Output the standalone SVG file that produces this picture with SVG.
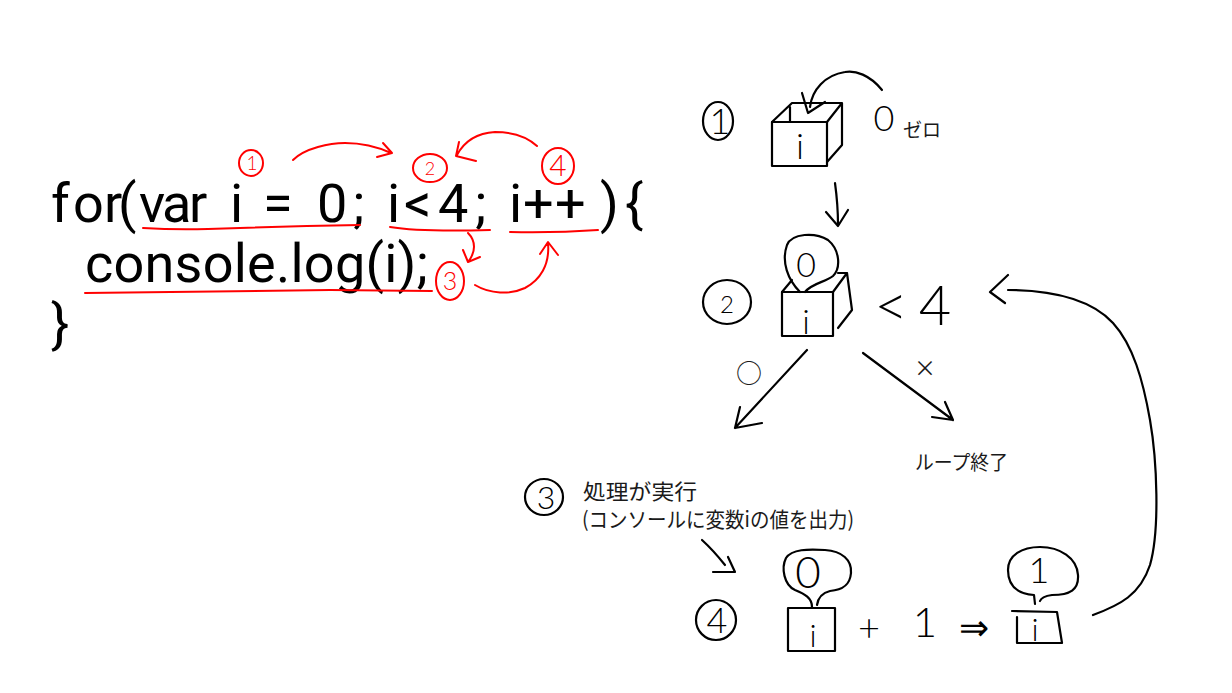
<svg xmlns="http://www.w3.org/2000/svg" width="1232" height="693" viewBox="0 0 1232 693">
<style>
.code{font-family:Roboto,"Liberation Sans",sans-serif;font-size:54px;fill:#000}
.red{fill:none;stroke:#f00;stroke-width:2;stroke-linecap:round;stroke-linejoin:round}
.ink{fill:none;stroke:#000;stroke-width:2.2;stroke-linecap:round;stroke-linejoin:round}
.rnum{font-family:Lato,"Liberation Sans",sans-serif;font-weight:300;fill:#f00;text-anchor:middle}
.hand{font-family:Lato,"Liberation Sans",sans-serif;font-weight:300;fill:#000;text-anchor:middle}
.jp{font-family:"Noto Sans CJK JP",sans-serif;fill:#1a1a1a}
</style>
<rect width="1232" height="693" fill="#fff"/>

<g id="code">
<text class="code" y="222" x="51 73 104 118 139 162 189 210 230 250 263 300 317 353 370 387 404 438 475 495 509 523 555 600 625">for(var i = 0; i&lt;4; i++){</text>
<text class="code" x="85" y="282" textLength="343">console.log(i);</text>
<text class="code" x="51" y="342">}</text>
</g>

<g id="code-marks">
<path class="red" d="M143,228 Q175,230 208,229 L240,228 Q300,226 360,225"/>
<path class="red" d="M390,227 Q420,232 490,230"/>
<path class="red" d="M510,232 Q555,233 598,230"/>
<path class="red" d="M85,293 Q280,291 330,290 L432,291"/>
<g id="r1"><ellipse class="red" cx="251" cy="163" rx="12" ry="13"/><text class="rnum" x="252" y="170" font-size="19">1</text></g>
<g id="r2"><ellipse class="red" cx="430" cy="168" rx="17" ry="14"/><text class="rnum" x="430" y="175" font-size="18">2</text></g>
<g id="r3"><ellipse class="red" cx="450" cy="281" rx="14" ry="19"/><text class="rnum" x="450" y="290" font-size="25">3</text></g>
<g id="r4"><ellipse class="red" cx="558" cy="166" rx="16" ry="18"/><text class="rnum" x="558" y="176" font-size="30">4</text></g>
</g>

<g id="code-connectors">
<path class="red" d="M293,160 C305,148 330,143 345,143 C365,143 380,148 391,153 M383,143 L392,153 L377,157"/>
<path class="red" d="M537,146 C525,135 510,132 495,132 C478,133 465,140 457,155 M459,142 L456,156 L476,161"/>
<path class="red" d="M468,233 C476,241 476,252 468,262 M463,250 L468,262 L480,257"/>
<path class="red" d="M475,285 C490,294 510,295 525,288 C540,280 550,265 548,243 M540,254 L548,242 L558,255"/>
</g>

<g id="step1">
<ellipse class="ink" cx="718" cy="121" rx="15" ry="19"/>
<text class="hand" x="720" y="134" font-size="36">1</text>
</g>
<g id="box1">
<rect class="ink" x="772" y="122" width="55" height="44"/>
<path class="ink" d="M772,122 L792,103 L842,103 L827,122 M842,103 L842,145 L827,162 M790,107 L790,122"/>
<text class="hand" x="800" y="159" font-size="36">i</text>
</g>
<g id="zero-label">
<text class="hand" x="884" y="131" font-size="36">0</text>
<text class="jp" x="903" y="137" font-size="19">ゼロ</text>
</g>

<g id="step2">
<ellipse class="ink" cx="727" cy="302" rx="24" ry="22"/>
<text class="hand" x="727" y="313" font-size="24">2</text>
</g>
<g id="box2">
<path class="ink" d="M800,292 C788,280 781,262 787,245 C792,233 815,232 828,240 C840,250 841,268 833,276 C826,282 812,283 805,292"/>
<text class="hand" x="806" y="277" font-size="34">0</text>
<rect class="ink" x="782" y="292" width="51" height="44"/>
<path class="ink" d="M782,292 L792,280 M833,292 L847,273 L838,273 M847,273 L852,310 L838,328"/>
<text class="hand" x="806" y="334" font-size="34">i</text>
</g>
<g id="cond">
<text class="hand" x="891" y="326" font-size="58">&lt;</text>
<text class="hand" x="935" y="325" font-size="56">4</text>
</g>

<g id="yes-label"><text class="jp" x="749" y="383" font-size="26" text-anchor="middle">○</text></g>
<g id="no-label"><text class="jp" x="925" y="376" font-size="22" text-anchor="middle">×</text></g>
<g id="loop-end"><text class="jp" x="915" y="470" font-size="20" textLength="93" lengthAdjust="spacingAndGlyphs">ループ終了</text></g>

<g id="step3">
<ellipse class="ink" cx="544" cy="497" rx="19" ry="18"/>
<text class="hand" x="546" y="509" font-size="32">3</text>
<text class="jp" x="583" y="499" font-size="21" textLength="114" lengthAdjust="spacingAndGlyphs">処理が実行</text>
<text class="jp" x="582" y="527" font-size="21" textLength="272" lengthAdjust="spacingAndGlyphs">(コンソールに変数iの値を出力)</text>
</g>

<g id="step4">
<ellipse class="ink" cx="716" cy="620" rx="20" ry="20"/>
<text class="hand" x="717" y="633" font-size="36">4</text>
</g>
<g id="box3">
<path class="ink" d="M812,607 C812,598 805,594 795,590 C784,585 781,568 786,558 C792,549 808,549 825,550 C842,551 852,560 851,573 C850,585 843,590 830,591 C822,593 818,598 817,605"/>
<text class="hand" x="808" y="588" font-size="44">0</text>
<rect class="ink" x="788" y="608" width="47" height="43"/>
<text class="hand" x="813" y="647" font-size="32">i</text>
</g>
<g id="plus-one">
<text class="hand" x="869" y="641" font-size="38">+</text>
<text class="hand" x="925" y="637" font-size="42">1</text>
<text class="hand" x="974" y="640" font-size="36" style="font-family:'DejaVu Sans',sans-serif;font-weight:200">⇒</text>
</g>
<g id="box4">
<path class="ink" d="M1035,604 L1034,595 C1020,594 1008,588 1008,570 C1008,555 1022,547 1040,547 C1060,547 1077,558 1078,575 C1079,590 1070,595 1052,595 C1045,596 1041,598 1040,601"/>
<text class="hand" x="1039" y="583" font-size="36">1</text>
<path class="ink" d="M1012,611 L1057,612 L1062,643 L1017,643 M1017,617 L1017,643"/>
<text class="hand" x="1035" y="641" font-size="32">i</text>
</g>

<g id="connectors">
<path class="ink" d="M882,90 C870,75 855,70 845,72 C825,75 812,90 810,107 M802,93 L808,113 L825,102"/>
<path class="ink" d="M835,183 Q838,205 838,225 M826,212 L838,226 L848,210"/>
<path class="ink" d="M807,350 L735,428 M740,407 L735,428 L762,423"/>
<path class="ink" d="M863,353 L953,420 M945,402 L953,420 L932,417"/>
<path class="ink" d="M702,540 Q713,550 725,565 M728,557 L735,572 L713,572"/>
<path class="ink" d="M1093,615 C1120,605 1140,595 1150,565 C1160,530 1157,460 1150,420 C1143,380 1133,345 1113,323 C1095,303 1060,290 1008,290 M1008,275 L990,292 L1005,303"/>
</g>
</svg>
